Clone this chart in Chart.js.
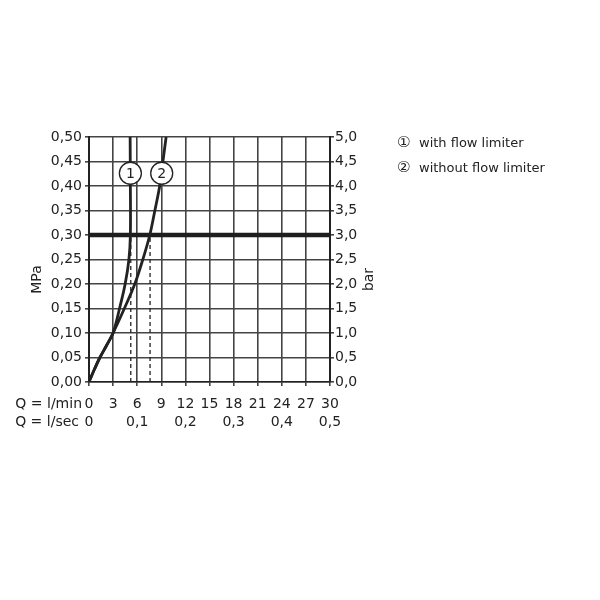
<!DOCTYPE html>
<html>
<head>
<meta charset="utf-8">
<script src="https://cdn.jsdelivr.net/npm/chart.js@4.4.1/dist/chart.umd.min.js"></script>
<style>
html, body { margin: 0; padding: 0; background: #fff; }
#wrap { position: relative; width: 600px; height: 600px; }
#legenda { position: absolute; left: 397px; top: 130px; font-family: "DejaVu Sans", sans-serif; font-size: 13px; color: #222; line-height: 24px; }
#legenda span { display: inline-block; width: 22px; font-size: 15px; }
</style>
</head>
<body>
<div id="wrap">
  <canvas id="canvasGraf" width="600" height="600"></canvas>
  <div id="legenda">
    <div><span>①</span>with flow limiter</div>
    <div><span>②</span>without flow limiter</div>
  </div>
</div>
<script>
// tick labels
let mpaLabels = ['0,00', '0,05', '0,10', '0,15', '0,20', '0,25', '0,30', '0,35', '0,40', '0,45', '0,50'];
let barLabels = ['0,0', '0,5', '1,0', '1,5', '2,0', '2,5', '3,0', '3,5', '4,0', '4,5', '5,0'];
let lminLabels = ['0', '3', '6', '9', '12', '15', '18', '21', '24', '27', '30'];
let lsecLabels = ['0', '0,1', '0,2', '0,3', '0,4', '0,5'];

// curve 1: with flow limiter (Q l/min, p MPa)
let curva1Q = [0, 0.65, 1.36, 2.2, 3.0, 3.8, 4.5, 4.97, 5.15, 5.15, 5.12];
let curva1P = [0, 0.025, 0.05, 0.075, 0.10, 0.15, 0.20, 0.25, 0.30, 0.40, 0.50];

// curve 2: without flow limiter
let curva2Q = [0, 0.65, 1.36, 2.2, 3.0, 4.4, 5.7, 6.7, 7.57, 8.2, 8.8, 9.2, 9.6];
let curva2P = [0, 0.025, 0.05, 0.075, 0.10, 0.15, 0.20, 0.25, 0.30, 0.35, 0.40, 0.45, 0.50];

// operating pressure line and flows at that pressure
let pressaoRef = 0.30;
let vazaoRef = [5.2, 7.6];

// numbered circles on the curves
let circuloQ = [5.15, 9.05];
let circuloP = [0.426, 0.426];
let circuloTxt = ['1', '2'];

function pontos(qs, ps) {
    let out = [];
    for (let i = 0; i < qs.length; i++) out.push({ x: qs[i], y: ps[i] });
    return out;
}

let fonte = '"DejaVu Sans", sans-serif';
let corGrade = '#444';

let datasets = [{
    data: [{ x: 0, y: pressaoRef }, { x: 30, y: pressaoRef }],
    borderColor: '#1e1e1e', borderWidth: 4.5, pointRadius: 0, showLine: true, order: 3
}];
vazaoRef.forEach(function (q) {
    datasets.push({
        data: [{ x: q, y: 0 }, { x: q, y: pressaoRef }],
        borderColor: '#222', borderWidth: 1.3, borderDash: [4, 3], pointRadius: 0, showLine: true, order: 4
    });
});
datasets.push({
    data: pontos(curva1Q, curva1P),
    borderColor: '#222', borderWidth: 2.8, pointRadius: 0, showLine: true, tension: 0.35, order: 2
});
datasets.push({
    data: pontos(curva2Q, curva2P),
    borderColor: '#222', borderWidth: 2.8, pointRadius: 0, showLine: true, tension: 0.35, order: 2
});
// circles go on top of the curves
datasets.push({
    data: pontos(circuloQ, circuloP),
    showLine: false, pointRadius: 11, pointBackgroundColor: '#fff',
    pointBorderColor: '#222', pointBorderWidth: 1.3, order: 0
});

let textos = {
    id: 'textos',
    afterDatasetsDraw: function (chart) {
        let ctx = chart.ctx;
        let area = chart.chartArea;
        let sx = chart.scales.x, sy = chart.scales.y;
        ctx.save();
        ctx.fillStyle = '#222';
        ctx.font = '14px ' + fonte;
        ctx.textAlign = 'center';
        ctx.textBaseline = 'middle';
        for (let i = 0; i < circuloTxt.length; i++) {
            ctx.fillText(circuloTxt[i], sx.getPixelForValue(circuloQ[i]), sy.getPixelForValue(circuloP[i]) + 1);
        }
        // axis titles
        ctx.save();
        ctx.translate(37, (area.top + area.bottom) / 2 + 20);
        ctx.rotate(-Math.PI / 2);
        ctx.fillText('MPa', 0, 0);
        ctx.restore();
        ctx.save();
        ctx.translate(369, (area.top + area.bottom) / 2 + 20);
        ctx.rotate(-Math.PI / 2);
        ctx.fillText('bar', 0, 0);
        ctx.restore();
        // row captions of the x axes
        ctx.textAlign = 'right';
        ctx.fillText('Q = l/min', 82, area.bottom + 22);
        ctx.fillText('Q = l/sec', 79, area.bottom + 40);
        ctx.restore();
    }
};

let grafico = new Chart(document.getElementById('canvasGraf').getContext('2d'), {
    type: 'scatter',
    data: { datasets: datasets },
    plugins: [textos],
    options: {
        responsive: false,
        animation: false,
        layout: { padding: { top: 137, left: 0, right: 0, bottom: 0 } },
        plugins: { legend: { display: false }, tooltip: { enabled: false } },
        scales: {
            x: {
                type: 'linear', position: 'bottom', weight: 0, min: 0, max: 30,
                ticks: {
                    stepSize: 3, padding: 10, color: '#222', font: { family: fonte, size: 14 },
                    maxRotation: 0, autoSkip: false,
                    callback: function (v, i) { return lminLabels[i]; }
                },
                grid: { color: corGrade, lineWidth: 1.6, tickLength: 4 },
                border: { color: '#222', width: 1.6 },
                afterFit: function (s) { s.height = 30; }
            },
            x2: {
                type: 'linear', position: 'bottom', weight: 1, min: 0, max: 0.5,
                ticks: {
                    stepSize: 0.1, padding: -6, color: '#222', font: { family: fonte, size: 14 },
                    maxRotation: 0, autoSkip: false,
                    callback: function (v, i) { return lsecLabels[i]; }
                },
                grid: { display: false },
                border: { display: false },
                afterFit: function (s) { s.height = 600 - 382 - 30; }
            },
            y: {
                type: 'linear', position: 'left', min: 0, max: 0.5,
                ticks: {
                    stepSize: 0.05, padding: 3, color: '#222', font: { family: fonte, size: 14 },
                    callback: function (v, i) { return mpaLabels[i]; }
                },
                grid: { color: corGrade, lineWidth: 1.6, tickLength: 4 },
                border: { color: '#222', width: 2 },
                afterFit: function (s) { s.width = 89; }
            },
            y2: {
                type: 'linear', position: 'right', min: 0, max: 5,
                ticks: {
                    stepSize: 0.5, padding: 1, color: '#222', font: { family: fonte, size: 14 },
                    callback: function (v, i) { return barLabels[i]; }
                },
                grid: { drawOnChartArea: false, color: corGrade, lineWidth: 1.6, tickLength: 4 },
                border: { color: '#222', width: 2 },
                afterFit: function (s) { s.width = 600 - 330; }
            }
        }
    }
});
</script>
</body>
</html>
